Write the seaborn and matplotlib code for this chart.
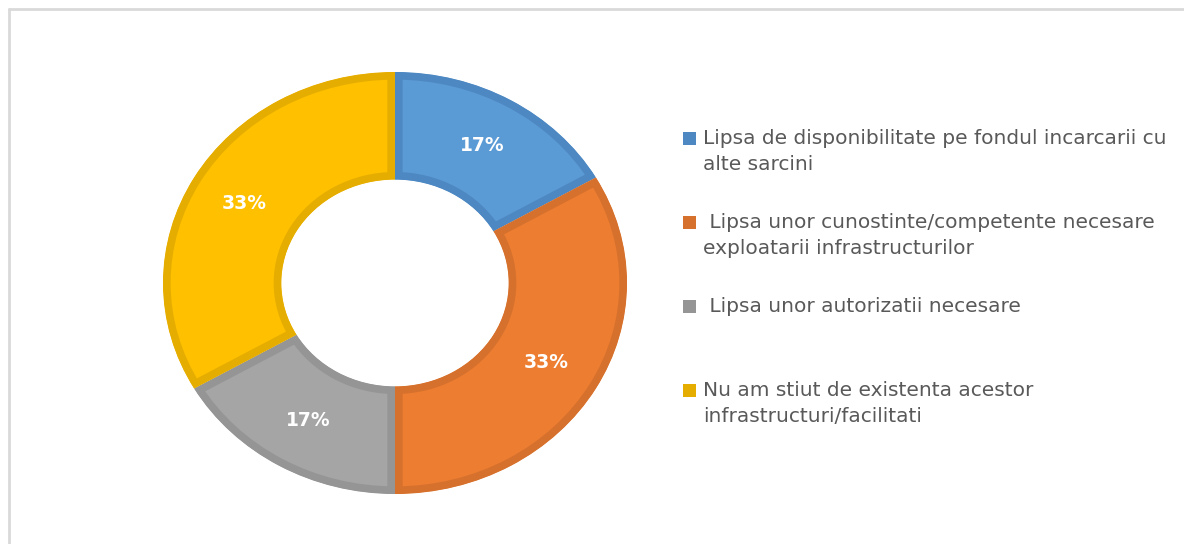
import matplotlib
matplotlib.use("Agg")
import matplotlib.pyplot as plt
import seaborn as sns
from matplotlib.patches import Rectangle
from matplotlib.lines import Line2D

# Date
categorii = [
    "Lipsa de disponibilitate pe fondul incarcarii cu\nalte sarcini",
    " Lipsa unor cunostinte/competente necesare\nexploatarii infrastructurilor",
    " Lipsa unor autorizatii necesare",
    "Nu am stiut de existenta acestor\ninfrastructuri/facilitati",
]
valori = [1, 2, 1, 2]
culori = ["#5B9BD5", "#ED7D31", "#A5A5A5", "#FFC000"]
culori_margine = ["#4E88C2", "#D6712D", "#959595", "#E5AD00"]

sns.set_theme(style="white")
plt.rcParams['font.family'] = ['DejaVu Sans']

W, H = 1184, 544
fig = plt.figure(figsize=(W / 100, H / 100), dpi=100)
fig.patch.set_facecolor("white")

# donut (usor intins pe orizontala ca in original)
ax = fig.add_axes([163 / W, (H - 494) / H, 464 / W, 422 / H])
wedges, _, autotexts = ax.pie(
    valori, colors=culori, startangle=90, counterclock=False,
    wedgeprops=dict(width=0.51), autopct=lambda p: f"{p:.0f}%",
    pctdistance=0.75,
    textprops=dict(color="white", fontsize=13.5, fontweight="bold", family="DejaVu Sans"),
)
for w, c in zip(wedges, culori_margine):
    w.set_edgecolor(c)
    w.set_linewidth(11)
    w.set_clip_path(w)
    w.set_clip_on(True)
ax.set_xlim(-1, 1)
ax.set_ylim(-1, 1)
ax.set_aspect("auto")
ax.axis("off")

# chenar gri
fig.add_artist(Line2D([9 / W, 1], [1 - 9 / H, 1 - 9 / H], transform=fig.transFigure,
                      color="#D9D9D9", lw=2))
fig.add_artist(Line2D([9 / W, 9 / W], [0, 1 - 9 / H], transform=fig.transFigure,
                      color="#D9D9D9", lw=2))

# legenda
for i, (lab, c) in enumerate(zip(categorii, culori_margine)):
    y = 138.5 + 84 * i
    fig.add_artist(Rectangle((683 / W, 1 - (y + 6.5) / H), 13 / W, 13 / H,
                             transform=fig.transFigure, facecolor=c, edgecolor="none"))
    fig.text(703 / W, 1 - (y - 9) / H, lab, ha="left", va="top", fontsize=14.5,
             family="DejaVu Sans", color="#595959", linespacing=1.4)

fig.savefig("out.png", dpi=100)
